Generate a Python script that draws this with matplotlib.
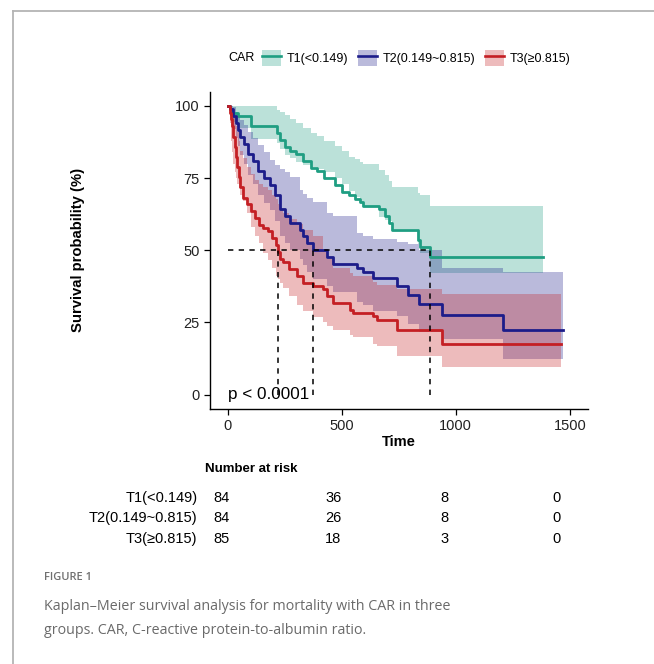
import matplotlib
matplotlib.use("Agg")
import matplotlib.pyplot as plt
from matplotlib.patches import Patch
from matplotlib.lines import Line2D

plt.rcParams['font.family'] = ['Liberation Sans', 'DejaVu Sans']

# --- data ---
groups = ['T1(<0.149)', 'T2(0.149~0.815)', 'T3(≥0.815)']
colors = ['#1F9E82', '#1C1C8A', '#C41F24']

t1_time = [0, 8, 20, 45, 100, 215, 230, 250, 275, 300, 330, 365, 390, 420, 470, 500,
           530, 560, 580, 595, 665, 690, 705, 720, 835, 845, 888, 1382]
t1_surv = [100, 98.8, 97.6, 96.4, 92.9, 90.5, 88.1, 85.7, 84.5, 83.3, 80.9, 78.6, 77.4, 75.0,
           72.6, 70.2, 69.0, 67.9, 66.7, 65.5, 64.3, 61.9, 59.5, 57.1, 53.6, 51.2, 47.6, 47.6]
t1_upper = [100, 100, 100, 100, 100, 98.5, 97.9, 97, 95.5, 94, 92.5, 90.7, 89.5, 88, 86,
            84.5, 82.4, 81.5, 80.5, 80, 77.9, 76, 74, 72, 70, 69, 65.2, 65.2]
t1_lower = [100, 96.5, 94.5, 92.5, 88.5, 87.2, 85, 83, 82, 80.5, 79.5, 79, 78, 77, 75, 73,
            70.5, 68.5, 66.6, 65, 61.5, 60.5, 60, 57.5, 52, 49, 42, 36]

t2_time = [0, 10, 22, 35, 45, 55, 70, 88, 110, 132, 160, 184, 205, 228, 250, 272, 316, 330,
           346, 373, 434, 461, 566, 592, 636, 741, 789, 838, 939, 1206, 1469]
t2_surv = [100, 98.8, 96.4, 94.0, 91.7, 89.3, 86.9, 83.3, 81.0, 77.4, 75.0, 72.6, 69.0, 64.3,
           61.9, 59.5, 57.1, 54.8, 52.4, 50.0, 47.6, 45.2, 44.0, 42.4, 40.3, 37.6, 34.5, 31.4,
           27.7, 22.5, 22.5]
t2_upper = [100, 100, 99.6, 98, 96.5, 95, 93.5, 91, 89, 86.5, 84, 81.4, 79.5, 78, 77, 75.5,
            71, 69.5, 68, 66.6, 63, 61.7, 56, 55, 54, 52.8, 52, 50, 44, 42.4, 42.4]
t2_lower = [100, 96.5, 92, 89, 86, 83, 80, 76, 73, 69, 66.5, 64, 60, 55, 52.5, 50, 47, 45,
            42.5, 40, 37.5, 35.5, 32, 31, 29, 27.2, 24.5, 21.7, 19.3, 12.4, 12.4]

t3_time = [0, 8, 15, 20, 25, 30, 36, 42, 48, 55, 65, 83, 100, 118, 135, 154, 175, 193, 210,
           219, 230, 241, 270, 303, 329, 373, 417, 434, 461, 535, 548, 636, 654, 741, 939, 1461]
t3_surv = [100, 97.6, 95.3, 92.9, 89.4, 85.9, 82.4, 78.8, 75.3, 71.8, 68.2, 65.9, 63.5, 61.2,
           58.8, 57.6, 56.5, 54.1, 51.8, 49.4, 47.1, 45.9, 43.5, 41.2, 38.8, 37.6, 36.5, 34.1,
           31.8, 29.4, 28.2, 27.1, 25.9, 22.4, 17.6, 17.6]
t3_upper = [100, 100, 99.5, 98.5, 96.5, 95, 93, 91, 88, 84.5, 82, 79, 76.5, 74.5, 73, 72, 71,
            69, 67.6, 66, 64, 63, 61, 59, 57, 54.8, 50, 47, 44, 42, 41, 39, 38, 36.5, 34.8, 34.8]
t3_lower = [100, 94, 88, 84, 80, 77, 75, 73, 71.5, 69, 67, 63, 58, 55, 52.5, 49, 46.5, 44, 41,
            40, 38.5, 37, 34, 31, 29, 27, 25, 23.8, 22.5, 20.5, 20, 17.5, 16.9, 13.4, 9.7, 9.7]

medians = [888, 373, 219]

risk_times = [0, 500, 1000, 1500]
risk_t1 = [84, 36, 8, 0]
risk_t2 = [84, 26, 8, 0]
risk_t3 = [85, 18, 3, 0]

W, H = 654, 664
fig = plt.figure(figsize=(W / 100, H / 100), dpi=100)


def px_axes(x0, y0, x1, y1):
    # pixel box (top-left origin) -> figure axes
    return fig.add_axes([x0 / W, 1 - y1 / H, (x1 - x0) / W, (y1 - y0) / H])


# page frame
fig.add_artist(Line2D([13 / W, 13 / W], [1 - 11 / H, 0], transform=fig.transFigure,
                      color='#b4b4b4', lw=1.3))
fig.add_artist(Line2D([13 / W, 1], [1 - 11 / H, 1 - 11 / H], transform=fig.transFigure,
                      color='#b4b4b4', lw=1.3))

# --- survival curves ---
ax = px_axes(210, 91.5, 588, 409)
curves = [(t1_time, t1_surv, t1_lower, t1_upper),
          (t2_time, t2_surv, t2_lower, t2_upper),
          (t3_time, t3_surv, t3_lower, t3_upper)]
for (tt, ss, lo, up), c in zip(curves, colors):
    ax.fill_between(tt, lo, up, step='post', color=c, alpha=0.3, linewidth=0)
for (tt, ss, lo, up), c in zip(curves, colors):
    ax.step(tt, ss, where='post', color=c, lw=2.0)

# median lines
ax.plot([0, max(medians)], [50, 50], color='black', lw=1.1, ls=(0, (3.5, 3.5)))
for m in medians:
    ax.plot([m, m], [0, 50], color='black', lw=1.1, ls=(0, (3.5, 3.5)))

ax.text(0, 0, 'p < 0.0001', fontsize=12.3, ha='left', va='center')

ax.set_xlim(-78, 1580)
ax.set_ylim(-5, 105)
ax.set_xticks([0, 500, 1000, 1500])
ax.set_yticks([0, 25, 50, 75, 100])
ax.tick_params(labelsize=10.5, length=4, width=0.9, colors='black', labelcolor='#222222')
for s in ['top', 'right']:
    ax.spines[s].set_visible(False)
for s in ['left', 'bottom']:
    ax.spines[s].set_linewidth(1.0)
ax.set_xlabel('Time', fontsize=10.5, fontweight='bold', labelpad=1.5)
ax.set_ylabel('Survival probability (%)', fontsize=10.7, fontweight='bold')
ax.yaxis.set_label_coords((85 - 210) / 378, 0.5)

# legend
handles = [(Patch(facecolor=c, alpha=0.3, edgecolor='none'), Line2D([], [], color=c, lw=1.9))
           for c in colors]
fig.legend(handles, groups, loc='center left', bbox_to_anchor=(262 / W, 1 - 58 / H), ncol=3,
           frameon=False, fontsize=9, handlelength=1.5, handleheight=1.6, handletextpad=0.5,
           columnspacing=0.75, borderpad=0, borderaxespad=0)
fig.text(228 / W, 1 - 58 / H, 'CAR', fontsize=9, ha='left', va='center')

# --- number at risk table ---
rax = px_axes(204.6, 455, 574, 550)
rax.set_xlim(-78, 1580)
rax.set_ylim(3.6, -0.6)
rax.axis('off')
rax.text(-78, 0, 'Number at risk', fontsize=9.5, fontweight='bold', ha='left', va='center')
for i, (lab, vals) in enumerate(zip(groups, [risk_t1, risk_t2, risk_t3])):
    y = 1.28 + i * 0.92
    rax.text(-110, y, lab, fontsize=10.5, ha='right', va='center')
    for t, v in zip(risk_times, vals):
        rax.text(t, y, str(v), fontsize=10.5, ha='center', va='center')

# caption
cap_font = ['Open Sans', 'DejaVu Sans']
fig.text(44 / W, 1 - 578 / H, 'FIGURE 1', fontsize=8, color='#707070', ha='left', va='center',
         family=cap_font, fontweight='semibold')
fig.text(44 / W, 1 - 606 / H, 'Kaplan\u2013Meier survival analysis for mortality with CAR in three',
         fontsize=10.3, color='#6a6a6a', ha='left', va='center', family=cap_font)
fig.text(44 / W, 1 - 631 / H, 'groups. CAR, C-reactive protein-to-albumin ratio.',
         fontsize=10.3, color='#6a6a6a', ha='left', va='center', family=cap_font)

fig.savefig('out.png', dpi=100)
